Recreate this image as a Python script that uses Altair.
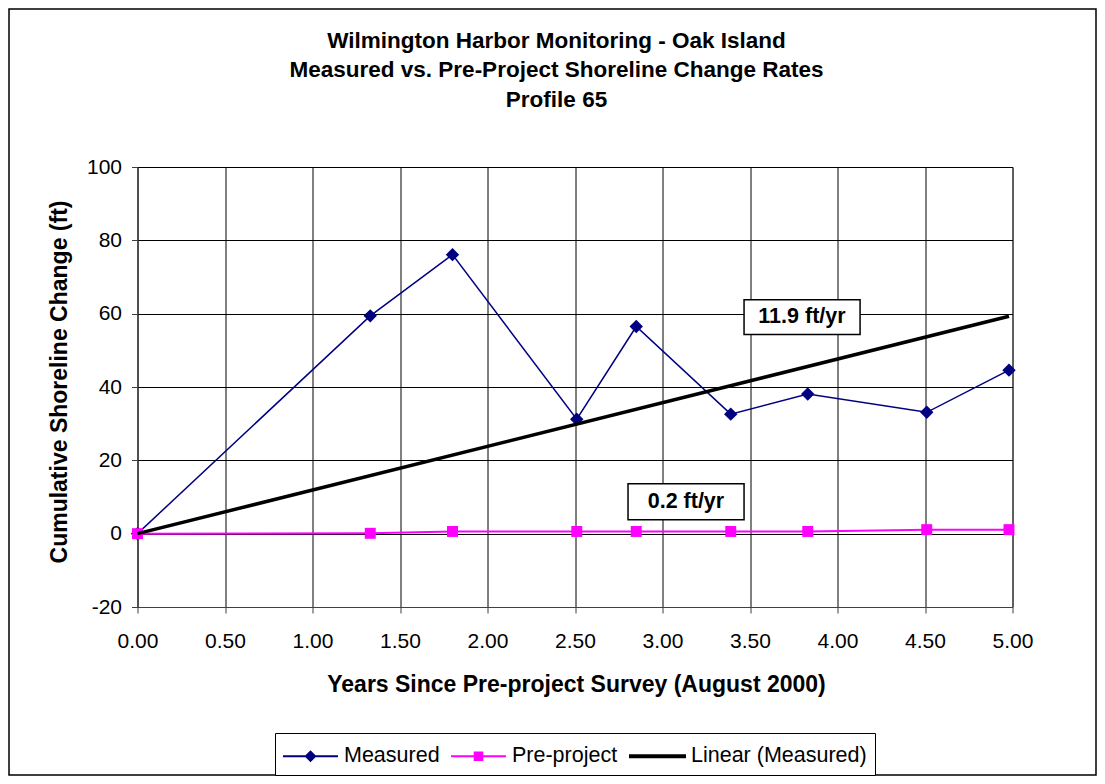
import altair as alt
import pandas as pd

# ---- data ----
years = [0.00, 1.33, 1.80, 2.51, 2.85, 3.39, 3.83, 4.51, 4.98]
measured = [0.0, 59.4, 76.1, 31.2, 56.5, 32.6, 38.1, 33.1, 44.6]
pre_project = [0.0, 0.1, 0.6, 0.6, 0.6, 0.6, 0.6, 1.1, 1.1]
trend_x = [0.00, 4.98]
trend_y = [0.0, 59.3]

series_names = ["Measured", "Pre-project", "Linear (Measured)"]
series_colors = ["#000080", "#FF00FF", "#000000"]

label_text = ["11.9 ft/yr", "0.2 ft/yr"]
label_x = [3.797, 3.134]
label_y = [59.0, 8.7]
box_x1 = [3.466, 2.803]
box_x2 = [4.129, 3.466]
box_y1 = [63.8, 13.6]
box_y2 = [54.3, 3.8]

x_ticks = [0, 0.5, 1, 1.5, 2, 2.5, 3, 3.5, 4, 4.5, 5]
y_ticks = [-20, 0, 20, 40, 60, 80, 100]

FONT = "Liberation Sans"
W, H = 875, 440

df_m = pd.DataFrame({"year": years, "change": measured})
df_p = pd.DataFrame({"year": years, "change": pre_project})
df_t = pd.DataFrame({"year": trend_x, "change": trend_y})
df_lab = pd.DataFrame({"text": label_text, "x": label_x, "y": label_y,
                       "x1": box_x1, "x2": box_x2, "y1": box_y1, "y2": box_y2})
df_leg = pd.DataFrame({"series": series_names, "year": [0, 0, 0], "change": [0, 0, 0]})

xscale = alt.Scale(domain=[0, 5], nice=False, zero=False)
yscale = alt.Scale(domain=[-20, 100], nice=False, zero=False)

xaxis = alt.Axis(values=x_ticks, format=".2f", title="Years Since Pre-project Survey (August 2000)",
                 grid=True, gridColor="#000000", gridWidth=1, tickSize=6, tickColor="#404040",
                 domainColor="#404040", labelFontSize=21, labelFont=FONT, labelColor="black",
                 labelPadding=17, labelFlush=False, labelOverlap=False,
                 titleFont=FONT, titleFontSize=23, titleFontWeight="bold",
                 titleColor="black", titleX=438.5, titleY=77, titleBaseline="middle", titleAlign="center")
yaxis = alt.Axis(values=y_ticks, title="Cumulative Shoreline Change (ft)",
                 labelExpr="datum.value < 0 ? '-' + abs(datum.value) : '' + datum.value",
                 grid=True, gridColor="#000000", gridWidth=1, tickSize=6, tickColor="#404040",
                 domainColor="#404040", labelFontSize=21, labelFont=FONT, labelColor="black",
                 labelPadding=10, labelFlush=False, labelOverlap=False,
                 titleFont=FONT, titleFontSize=23, titleFontWeight="bold",
                 titleColor="black", titleX=-78.5, titleY=214.5, titleBaseline="middle",
                 titleAlign="center", titleAngle=270)

X = alt.X("year:Q", scale=xscale, axis=xaxis)
Y = alt.Y("change:Q", scale=yscale, axis=yaxis)

frame = alt.Chart(pd.DataFrame({"a": [0]})).mark_rect(
    fillOpacity=0, stroke="black", strokeWidth=1.5
).encode(x=alt.value(-128.5), x2=alt.value(W + 83.5), y=alt.value(-158), y2=alt.value(H + 168))

m_line = alt.Chart(df_m).mark_line(color="#000080", strokeWidth=1.5).encode(x=X, y=Y)
m_pts = alt.Chart(df_m).mark_point(shape="diamond", filled=True, color="#000080", size=180, opacity=1).encode(x=X, y=Y)
p_line = alt.Chart(df_p).mark_line(color="#FF00FF", strokeWidth=2).encode(x=X, y=Y)
p_pts = alt.Chart(df_p).mark_point(shape="square", filled=True, color="#FF00FF", size=120, opacity=1).encode(x=X, y=Y)
t_line = alt.Chart(df_t).mark_line(color="black", strokeWidth=3.5).encode(x=X, y=Y)

boxes = alt.Chart(df_lab).mark_rect(fill="white", stroke="black", strokeWidth=1.5).encode(
    x="x1:Q", x2="x2:Q", y="y1:Q", y2="y2:Q")
texts = alt.Chart(df_lab).mark_text(font=FONT, fontSize=21.5, fontWeight="bold", color="black",
                                    baseline="middle", align="center").encode(
    x="x:Q", y="y:Q", text="text:N")

# legend symbols: line with marker, as filled paths
paths = [
    "M-1.833,-0.067H1.833V0.067H-1.833Z M0,-0.4L0.4,0L0,0.4L-0.4,0Z",
    "M-1.833,-0.067H1.833V0.067H-1.833Z M-0.32,-0.32H0.32V0.32H-0.32Z",
    "M-1.9,-0.133H1.9V0.133H-1.9Z",
]
leg = alt.Legend(title=None, orient="none", legendX=137.5, legendY=566, direction="horizontal",
                 columns=3, symbolSize=900, symbolStrokeWidth=0, symbolOpacity=1,
                 labelFont=FONT, labelFontSize=21.5, labelColor="black", labelLimit=0,
                 labelOffset=18.5, symbolOffset=12.5, columnPadding=11, padding=8,
                 strokeColor="black", fillColor="white", cornerRadius=0)
legend_layer = alt.Chart(df_leg).mark_point(filled=True, opacity=0).encode(
    x=X, y=Y,
    color=alt.Color("series:N", scale=alt.Scale(domain=series_names, range=series_colors), legend=leg,
                    sort=series_names),
    shape=alt.Shape("series:N", scale=alt.Scale(domain=series_names, range=paths), legend=leg,
                    sort=series_names),
)

chart = alt.layer(frame, m_line, m_pts, p_line, p_pts, t_line, boxes, texts, legend_layer).properties(
    width=W, height=H,
    autosize=alt.AutoSizeParams(type="none"),
    padding={"left": 129.5, "top": 159, "right": 84.5, "bottom": 169},
    title=alt.Title(
        ["Wilmington Harbor Monitoring - Oak Island",
         "Measured vs. Pre-Project Shoreline Change Rates",
         "Profile 65"],
        font=FONT, fontSize=22.5, fontWeight="bold", color="black", lineHeight=29.5,
        anchor="middle", dx=-18.5, dy=125.75, offset=0, baseline="bottom"),
    background="white",
).configure_view(stroke="#808080", strokeWidth=1)

chart.save("out.html", embed_options={"renderer": "svg", "actions": False})
